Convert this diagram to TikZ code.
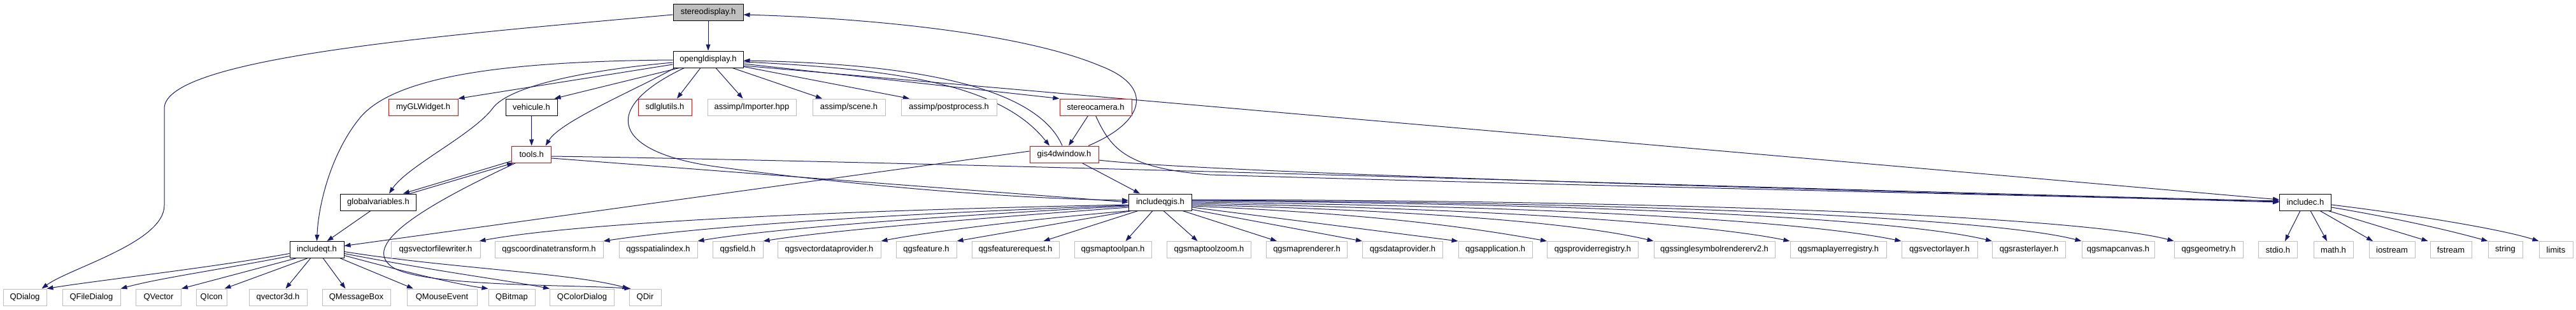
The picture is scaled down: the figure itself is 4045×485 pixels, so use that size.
\documentclass[tikz,border=0pt]{standalone}
\usepackage{fontspec}
\setmainfont{Liberation Sans}
\usetikzlibrary{arrows.meta}
\definecolor{edgeblue}{HTML}{191970}
\definecolor{leafgray}{HTML}{BFBFBF}
\pgfdeclarelayer{background}
\pgfsetlayers{background,main}
\begin{document}
\begin{tikzpicture}[x=1pt,y=-1pt,
 box/.style={draw, rectangle, minimum height=26pt, inner sep=0pt, line width=1pt, font=\fontsize{13}{15}\selectfont, fill=white},
 leaf/.style={box, draw=leafgray},
 redbox/.style={box, draw=red},
 blackbox/.style={box, draw=black},
 edge/.style={draw=edgeblue, line width=1pt, -{Triangle[length=10pt,width=7pt]}},
]
\useasboundingbox (0,0) rectangle (4045,485);
% row 1-2
\node[blackbox, fill=leafgray, minimum width=110pt] (sd) at (1112,19) {stereodisplay.h};
\node[blackbox, minimum width=110pt] (og) at (1112,93) {opengldisplay.h};
% row 3
\node[redbox, minimum width=109pt] (glw) at (664.5,168) {myGLWidget.h};
\node[blackbox, minimum width=81pt] (veh) at (834.5,168) {vehicule.h};
\node[redbox, minimum width=84pt] (sdl) at (1044,168) {sdlglutils.h};
\node[leaf, minimum width=139pt] (imp) at (1180.5,168) {assimp/Importer.hpp};
\node[leaf, minimum width=114pt] (scn) at (1333,168) {assimp/scene.h};
\node[leaf, minimum width=150pt] (pp) at (1490,168) {assimp/postprocess.h};
\node[redbox, minimum width=113pt] (sc) at (1720.5,168) {stereocamera.h};
% row 4
\node[redbox, minimum width=62pt] (tools) at (834.7,242) {tools.h};
\node[redbox, minimum width=108pt] (gis) at (1671,242) {gis4dwindow.h};
% row 5
\node[blackbox, minimum width=119pt] (gv) at (594,317) {globalvariables.h};
\node[blackbox, minimum width=99pt] (qgis) at (1822,317) {includeqgis.h};
\node[blackbox, minimum width=81pt] (inc) at (3620,317) {includec.h};
% row 6
\node[blackbox, minimum width=85pt] (iqt) at (497.5,391.5) {includeqt.h};
\node[leaf, minimum width=140pt] (vfw) at (684,391.5) {qgsvectorfilewriter.h};
\node[leaf, minimum width=170pt] (cct) at (862,391.5) {qgscoordinatetransform.h};
\node[leaf, minimum width=123pt] (spi) at (1033.5,391.5) {qgsspatialindex.h};
\node[leaf, minimum width=79pt] (fld) at (1158.5,391.5) {qgsfield.h};
\node[leaf, minimum width=162pt] (vdp) at (1302,391.5) {qgsvectordataprovider.h};
\node[leaf, minimum width=95pt] (feat) at (1454.5,391.5) {qgsfeature.h};
\node[leaf, minimum width=137pt] (freq) at (1594.5,391.5) {qgsfeaturerequest.h};
\node[leaf, minimum width=121pt] (mtp) at (1747.5,391.5) {qgsmaptoolpan.h};
\node[leaf, minimum width=132pt] (mtz) at (1898.5,391.5) {qgsmaptoolzoom.h};
\node[leaf, minimum width=127pt] (mr) at (2052,391.5) {qgsmaprenderer.h};
\node[leaf, minimum width=126pt] (dp) at (2202.5,391.5) {qgsdataprovider.h};
\node[leaf, minimum width=116pt] (app) at (2348,391.5) {qgsapplication.h};
\node[leaf, minimum width=143pt] (preg) at (2501,391.5) {qgsproviderregistry.h};
\node[leaf, minimum width=190pt] (ssr) at (2692,391.5) {qgssinglesymbolrendererv2.h};
\node[leaf, minimum width=151pt] (mlr) at (2886.5,391.5) {qgsmaplayerregistry.h};
\node[leaf, minimum width=119pt] (vl) at (3045.5,391.5) {qgsvectorlayer.h};
\node[leaf, minimum width=115pt] (rl) at (3186,391.5) {qgsrasterlayer.h};
\node[leaf, minimum width=114pt] (mc) at (3326,391.5) {qgsmapcanvas.h};
\node[leaf, minimum width=108pt] (geo) at (3468,391.5) {qgsgeometry.h};
\node[leaf, minimum width=61pt] (stdio) at (3577,391.5) {stdio.h};
\node[leaf, minimum width=62pt] (math) at (3664,391.5) {math.h};
\node[leaf, minimum width=72pt] (ios) at (3756,391.5) {iostream};
\node[leaf, minimum width=65pt] (fs) at (3848.5,391.5) {fstream};
\node[leaf, minimum width=54pt] (str) at (3934,391.5) {string};
\node[leaf, minimum width=53pt] (lim) at (4013.5,391.5) {limits};
% row 7
\node[leaf, minimum width=68pt] (qdlg) at (39,466) {QDialog};
\node[leaf, minimum width=91pt] (qfd) at (143.5,466) {QFileDialog};
\node[leaf, minimum width=71pt] (qvec) at (249,466) {QVector};
\node[leaf, minimum width=48pt] (qicon) at (332,466) {QIcon};
\node[leaf, minimum width=91pt] (qv3d) at (436.5,466) {qvector3d.h};
\node[leaf, minimum width=107pt] (qmb) at (559.5,466) {QMessageBox};
\node[leaf, minimum width=110pt] (qme) at (694,466) {QMouseEvent};
\node[leaf, minimum width=73pt] (qbmp) at (803.5,466) {QBitmap};
\node[leaf, minimum width=101pt] (qcd) at (914,466) {QColorDialog};
\node[leaf, minimum width=50pt] (qdir) at (1013,466) {QDir};

\begin{pgfonlayer}{background}
% edges from stereodisplay
\draw[edge] (sd.south) -- (og.north);
\draw[edge] ([yshift=-4pt]sd.west) .. controls (700,55) and (258,90) .. (258,170) -- (258,322) .. controls (258,380) and (110,420) .. ([xshift=-8pt]qdlg.north east);
% edges from opengldisplay
\draw[edge] ([yshift=-8pt]og.west) -- (glw.north east);
\draw[edge] ([xshift=10pt]og.south west) -- ([xshift=-5pt]veh.north east);
\draw[edge] ([xshift=-12pt]og.south) -- ([xshift=19pt]sdl.north);
\draw[edge] ([xshift=12pt]og.south) -- ([xshift=-14pt]imp.north);
\draw[edge] ([xshift=38pt]og.south) -- ([xshift=-42pt]scn.north);
\draw[edge] ([yshift=2pt]og.south east) -- ([xshift=-62pt]pp.north);
\draw[edge] ([yshift=-7pt]og.east) -- (sc.north west);
\draw[edge] ([yshift=-4pt]og.east) .. controls (1400,108) and (1570,130) .. ([xshift=-23pt]gis.north);
\draw[edge] ([xshift=-3pt]gis.north) .. controls (1630,140) and (1450,100) .. ([yshift=-2pt]og.east);
\draw[edge] ([xshift=38pt]gis.north) .. controls (1800,190) and (1812,135) .. (1727,103) .. controls (1600,50) and (1350,28) .. ([yshift=-4pt]sd.east);
\draw[edge] ([xshift=3pt]og.south west) .. controls (1000,140) and (880,190) .. ([xshift=22pt]tools.north);
\draw[edge] ([yshift=-5pt]og.west) .. controls (900,112) and (800,138) .. (775,168) .. controls (745,210) and (640,260) .. ([xshift=17pt]gv.north);
\draw[edge] ([yshift=-1pt]og.west) .. controls (800,96) and (620,118) .. (565,185) .. controls (520,240) and (500,320) .. (iqt.north);
\draw[edge] ([xshift=18pt]og.south west) .. controls (940,170) and (960,240) .. (1130,262) .. controls (1350,292) and (1600,312) .. ([yshift=3pt]qgis.west);
\draw[edge] ([yshift=-10pt]og.east) -- ([yshift=4pt]inc.west);
% vehicule, tools, globalvariables
\draw[edge] (veh.south) -- (tools.north);
\draw[edge] ([yshift=3pt]tools.south west) -- ([xshift=-21pt]gv.north east);
\draw[edge] ([xshift=-10pt]gv.north east) -- ([xshift=3pt]tools.south west);
\draw[edge] ([yshift=-6pt]tools.east) -- (qgis.west);
\draw[edge] ([yshift=-3pt]tools.east) .. controls (1500,254) and (3000,302) .. ([yshift=2pt]inc.west);
\draw[edge] ([xshift=-25pt]tools.south) .. controls (650,330) and (570,385) .. (615,418) .. controls (660,450) and (900,446) .. ([xshift=3pt]qdir.north west);
\draw[edge] ([xshift=-12pt]gv.south) -- ([xshift=16pt]iqt.north);
% gis4dwindow, stereocamera
\draw[edge] ([yshift=5pt]gis.west) -- ([yshift=6pt]iqt.east);
\draw[edge] ([xshift=28pt]gis.south) -- ([xshift=-32pt]qgis.north);
\draw[edge] ([yshift=-9pt]gis.east) .. controls (1900,272) and (3000,302) .. ([yshift=1pt]inc.west);
\draw[edge] ([xshift=-12pt]sc.south) -- ([xshift=7pt]gis.north);
\draw[edge] (sc.south) .. controls (1745,235) and (1770,264) .. (1900,274) .. controls (2500,292) and (3200,306) .. (inc.west);
% includeqt
\draw[edge] ([yshift=-6pt]iqt.west) .. controls (330,420) and (150,440) .. (qdlg.north east);
\draw[edge] ([yshift=-10pt]iqt.west) .. controls (350,422) and (250,436) .. (qfd.north east);
\draw[edge] ([xshift=10pt]iqt.south west) -- (qvec.north east);
\draw[edge] ([xshift=28pt]iqt.south west) -- ([xshift=-4pt]qicon.north east);
\draw[edge] ([xshift=-10pt]iqt.south) -- ([xshift=12pt]qv3d.north);
\draw[edge] ([xshift=10pt]iqt.south) -- ([xshift=-17pt]qmb.north);
\draw[edge] ([xshift=-6pt]iqt.south east) -- ([xshift=-45pt]qme.north);
\draw[edge] ([yshift=-9pt]iqt.east) .. controls (650,430) and (720,446) .. (qbmp.north west);
\draw[edge] ([yshift=-6pt]iqt.east) .. controls (700,428) and (800,440) .. (qcd.north west);
\draw[edge] ([yshift=-3pt]iqt.east) .. controls (700,420) and (900,428) .. (qdir.north west);
% includeqgis
\draw[edge] ([yshift=-4pt]qgis.west) .. controls (1300,330) and (900,350) .. ([xshift=-2pt]vfw.north east);
\draw[edge] ([yshift=-5pt]qgis.west) .. controls (1400,335) and (1100,355) .. (cct.north east);
\draw[edge] ([yshift=-6pt]qgis.west) .. controls (1450,340) and (1200,360) .. (spi.north east);
\draw[edge] ([yshift=-8pt]qgis.west) .. controls (1500,345) and (1300,362) .. (fld.north east);
\draw[edge] ([xshift=2pt]qgis.south west) .. controls (1600,345) and (1450,365) .. (vdp.north east);
\draw[edge] ([xshift=5pt]qgis.south west) -- (feat.north east);
\draw[edge] ([xshift=15pt]qgis.south west) -- ([xshift=-25pt]freq.north east);
\draw[edge] ([xshift=-12pt]qgis.south) -- ([xshift=20pt]mtp.north);
\draw[edge] ([xshift=5pt]qgis.south) -- ([xshift=-18pt]mtz.north);
\draw[edge] ([xshift=-15pt]qgis.south east) -- ([xshift=-47pt]mr.north);
\draw[edge] ([yshift=2pt]qgis.south east) -- (dp.north west);
\draw[edge] ([yshift=-8pt]qgis.east) -- (app.north west);
\draw[edge] ([yshift=-6pt]qgis.east) .. controls (2150,335) and (2300,355) .. (preg.north west);
\draw[edge] ([yshift=-4pt]qgis.east) .. controls (2300,332) and (2500,355) .. (ssr.north west);
\draw[edge] ([yshift=-2pt]qgis.east) .. controls (2400,328) and (2700,355) .. (mlr.north west);
\draw[edge] (qgis.east) .. controls (2500,324) and (2850,350) .. (vl.north west);
\draw[edge] ([yshift=2pt]qgis.east) .. controls (2600,320) and (3000,347) .. (rl.north west);
\draw[edge] ([yshift=3pt]qgis.east) .. controls (2700,318) and (3150,347) .. (mc.north west);
\draw[edge] ([yshift=4pt]qgis.east) .. controls (2800,315) and (3300,347) .. (geo.north west);
% includec
\draw[edge] ([xshift=-8pt]inc.south) -- ([xshift=11pt]stdio.north);
\draw[edge] ([xshift=8pt]inc.south) -- ([xshift=-10pt]math.north);
\draw[edge] ([xshift=-18pt]inc.south east) -- ([xshift=-30pt]ios.north);
\draw[edge] ([xshift=-5pt]inc.south east) -- ([xshift=-36pt]fs.north);
\draw[edge] ([yshift=-8pt]inc.east) .. controls (3780,345) and (3860,365) .. (str.north west);
\draw[edge] ([yshift=-4pt]inc.east) .. controls (3800,338) and (3930,360) .. (lim.north west);
\end{pgfonlayer}
\end{tikzpicture}
\end{document}
